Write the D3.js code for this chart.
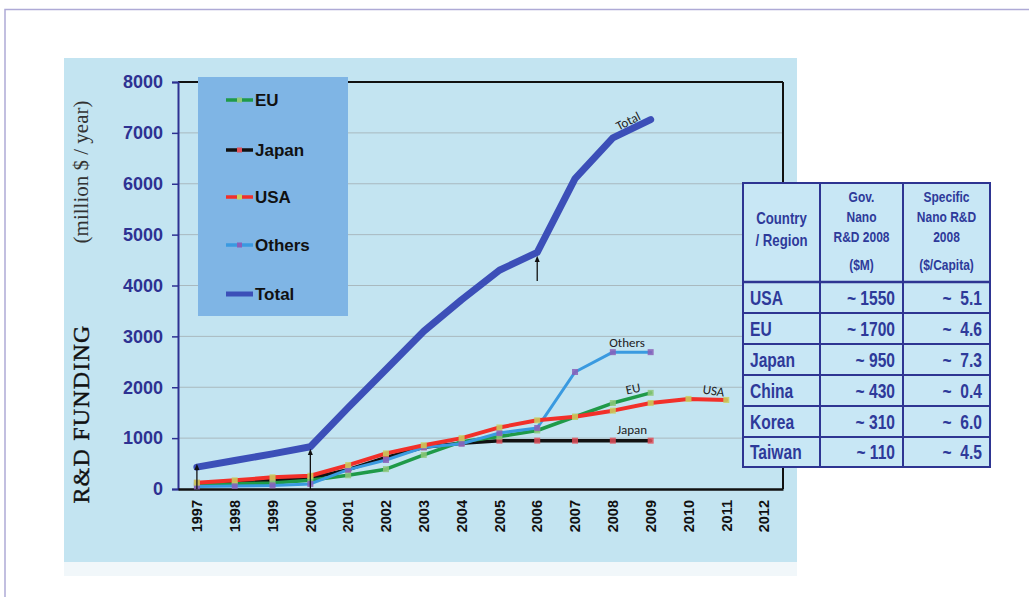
<!DOCTYPE html>
<html><head><meta charset="utf-8">
<script src="https://cdn.jsdelivr.net/npm/d3@7"></script>
<style>body{margin:0;background:#fff}svg{display:block}</style>
</head><body>
<svg id="c" width="1029" height="597"></svg>
<script>
const years = ["1997","1998","1999","2000","2001","2002","2003","2004","2005","2006","2007","2008","2009","2010","2011","2012"];
const totalVals  = [430, 560, 690, 830, 1600, 2350, 3100, 3720, 4300, 4650, 6100, 6900, 7260];
const usaVals    = [125, 170, 230, 260, 470, 700, 860, 1000, 1210, 1350, 1420, 1540, 1690, 1770, 1750];
const euVals     = [80, 100, 120, 170, 270, 390, 670, 930, 1030, 1150, 1420, 1690, 1890];
const japanVals  = [120, 140, 170, 210, 380, 620, 820, 900, 950, 950, 950, 950, 950];
const othersVals = [50, 60, 70, 100, 380, 570, 820, 890, 1100, 1200, 2300, 2690, 2690];
const yTicks = [0,1000,2000,3000,4000,5000,6000,7000,8000];
const legendNames = ["EU","Japan","USA","Others","Total"];
const arrowYears = ["1997","2000","2006"];
const tableHeader = ["Country\n/ Region","Gov.\nNano\nR&D 2008\n($M)","Specific\nNano R&D\n2008\n($/Capita)"];
const tableCountries = ["USA","EU","Japan","China","Korea","Taiwan"];
const tableFunding = ["~ 1550","~ 1700","~ 950","~ 430","~ 310","~ 110"];
const tablePerCapita = ["~  5.1","~  4.6","~  7.3","~  0.4","~  6.0","~  4.5"];

const svg = d3.select("#c");
// outer frame
svg.append("path").attr("d","M5,597 V9.5 H1029").attr("fill","none").attr("stroke","#aeaad6").attr("stroke-width",1.5);
// panel
svg.append("rect").attr("x",64).attr("y",58).attr("width",733).attr("height",504).attr("fill","#c3e4f1");
svg.append("rect").attr("x",64).attr("y",562).attr("width",733).attr("height",14).attr("fill","#f1f7fa");

const L=178,R=783,T=82,B=489;
const x = d3.scaleBand().domain(years).range([L,R]);
const cx = d => x(d)+x.bandwidth()/2;
const y = d3.scaleLinear().domain([0,8000]).range([B,T]);

// gridlines
svg.append("g").selectAll("line").data(yTicks.slice(1,-1)).join("line")
  .attr("x1",L).attr("x2",R).attr("y1",d=>y(d)).attr("y2",d=>y(d))
  .attr("stroke","#a9b9bf").attr("stroke-width",1);

// frame
svg.append("line").attr("x1",L).attr("x2",R).attr("y1",T).attr("y2",T).attr("stroke","#111").attr("stroke-width",2);
svg.append("line").attr("x1",R).attr("x2",R).attr("y1",T).attr("y2",B).attr("stroke","#111").attr("stroke-width",2);

// y axis
const ya = svg.append("g").attr("transform",`translate(${L},0)`)
  .call(d3.axisLeft(y).tickValues(yTicks).tickFormat(d3.format("d")).tickSize(6).tickPadding(9));
ya.select(".domain").attr("stroke","#2e3192").attr("stroke-width",2);
ya.selectAll(".tick line").attr("stroke","#2e3192").attr("stroke-width",1.5);
ya.selectAll("text").attr("fill","#2e3192").attr("font-family","Liberation Sans, Arial, sans-serif")
  .attr("font-weight","bold").attr("font-size",18);

// x axis
const xa = svg.append("g").attr("transform",`translate(0,${B})`)
  .call(d3.axisBottom(x).tickSize(0).tickPadding(0));
xa.select(".domain").attr("stroke","#111").attr("stroke-width",2.5);
xa.selectAll("text").attr("fill","#111").attr("font-family","Liberation Sans, Arial, sans-serif")
  .attr("font-weight","bold").attr("font-size",14.5)
  .attr("transform","rotate(-90)").attr("text-anchor","end").attr("dy","0.36em").attr("x",-11).attr("y",0);

// y titles
svg.append("text").attr("transform","translate(89,414) rotate(-90)").attr("text-anchor","middle")
  .attr("font-family","Liberation Serif, Times New Roman, serif").attr("font-size",24).attr("fill","#111")
  .attr("stroke","#111").attr("stroke-width",0.4)
  .attr("letter-spacing",1.2).text("R&D FUNDING");
svg.append("text").attr("transform","translate(88,172) rotate(-90)").attr("text-anchor","middle")
  .attr("font-family","Liberation Serif, Times New Roman, serif").attr("font-size",21).attr("fill","#333")
  .text("(million $ / year)");

// lines
const series = [
  {name:"Japan", vals:japanVals, color:"#111", w:3.5, mk:"#e0505a"},
  {name:"EU", vals:euVals, color:"#1f9a48", w:3.5, mk:"#8fc87a"},
  {name:"Others", vals:othersVals, color:"#3a9ae0", w:3, mk:"#8a5fb8"},
  {name:"USA", vals:usaVals, color:"#f2302a", w:4, mk:"#c8d060"},
  {name:"Total", vals:totalVals, color:"#3c4fb8", w:7, mk:null}
];
const line = d3.line().x((d,i)=>cx(years[i])).y(d=>y(d));
series.forEach(s=>{
  svg.append("path").datum(s.vals).attr("d",line).attr("fill","none")
    .attr("stroke",s.color).attr("stroke-width",s.w).attr("stroke-linejoin","round").attr("stroke-linecap","round");
  if(s.mk){
    svg.append("g").selectAll("rect").data(s.vals).join("rect")
      .attr("x",(d,i)=>cx(years[i])-3).attr("y",d=>y(d)-3).attr("width",6).attr("height",6)
      .attr("fill",s.mk).attr("opacity",0.85);
  }
});

// arrows
const defs = svg.append("defs");
defs.append("marker").attr("id","ah").attr("viewBox","0 0 10 10").attr("refX",5).attr("refY",5)
  .attr("markerWidth",5).attr("markerHeight",6).attr("orient","auto")
  .append("path").attr("d","M0,1 L10,5 L0,9 Z").attr("fill","#111");
const arrowSpan = {"1997":[489,467],"2000":[489,452],"2006":[281,259]};
arrowYears.forEach(a=>{
  svg.append("line").attr("x1",cx(a)).attr("x2",cx(a)).attr("y1",arrowSpan[a][0]).attr("y2",arrowSpan[a][1])
    .attr("stroke","#111").attr("stroke-width",1.3).attr("marker-end","url(#ah)");
});

// series labels
const lab = (t,xx,yy,rot)=>svg.append("text").attr("transform",`translate(${xx},${yy}) rotate(${rot})`)
  .attr("text-anchor","middle").attr("font-family","Carlito, Liberation Sans, sans-serif").attr("font-size",13)
  .attr("fill","#222").text(t);
lab("Total",630,125,-27);
lab("Others",627,347,0);
lab("EU",634,393,-12);
lab("USA",713,395,8);
lab("Japan",632,434,0);

// legend
svg.append("rect").attr("x",198).attr("y",77).attr("width",150).attr("height",239).attr("fill","#7fb5e5");
const lgY = [100,150,197,245,294];
const lgColors = {"EU":"#1f9a48","Japan":"#111","USA":"#f2302a","Others":"#3a9ae0","Total":"#3c4fb8"};
const lgMk = {"EU":"#8fc87a","Japan":"#e0505a","USA":"#c8d060","Others":"#8a5fb8","Total":null};
legendNames.forEach((n,i)=>{
  svg.append("line").attr("x1",226).attr("x2",253).attr("y1",lgY[i]).attr("y2",lgY[i])
    .attr("stroke",lgColors[n]).attr("stroke-width",n==="Total"?5:3.5);
  if(lgMk[n]) svg.append("rect").attr("x",237).attr("y",lgY[i]-2.5).attr("width",5).attr("height",5).attr("fill",lgMk[n]);
  svg.append("text").attr("x",255).attr("y",lgY[i]).attr("dy","0.36em")
    .attr("font-family","Liberation Sans, Arial, sans-serif").attr("font-weight","bold").attr("font-size",17)
    .attr("fill","#111").text(n);
});

// table
const tx=[743,820,903,990], ty=[183,282,313,344,375,406,437,467];
const tg = svg.append("g").attr("font-family","Liberation Sans, Arial, sans-serif")
  .attr("font-weight","bold").attr("fill","#2e3a9a");
tg.append("rect").attr("x",tx[0]).attr("y",ty[0]).attr("width",tx[3]-tx[0]).attr("height",ty[7]-ty[0])
  .attr("fill","#c8e7f5").attr("stroke","#2e3592").attr("stroke-width",2);
tx.slice(1,3).forEach(v=>tg.append("line").attr("x1",v).attr("x2",v).attr("y1",ty[0]).attr("y2",ty[7]).attr("stroke","#2e3592").attr("stroke-width",2));
ty.slice(1,7).forEach(v=>tg.append("line").attr("x1",tx[0]).attr("x2",tx[3]).attr("y1",v).attr("y2",v).attr("stroke","#2e3592").attr("stroke-width",v===282?2.5:2));
const sx = 0.8;
const ttext = (t,xx,yy,anchor,size,dy)=>tg.append("text")
  .attr("transform",`translate(${xx},${yy}) scale(${sx},1)`).attr("dy",dy||0)
  .attr("text-anchor",anchor).attr("font-size",size).attr("fill","#2e3a9a")
  .attr("xml:space","preserve").style("white-space","pre").text(t);
// header
const hdrSize=[16.5,15,15];
const hdrY=[[224,246],[202,222,242,270],[202,222,242,270]];
tableHeader.forEach((h,c)=>{
  h.split("\n").forEach((ln,k)=>ttext(ln,(tx[c]+tx[c+1])/2,hdrY[c][k],"middle",hdrSize[c]));
});
tableCountries.forEach((c,i)=>{
  const ym=(ty[i+1]+ty[i+2])/2;
  ttext(c,tx[0]+7,ym,"start",19.5,"0.36em");
  ttext(tableFunding[i],tx[2]-8,ym,"end",19.5,"0.36em");
  ttext(tablePerCapita[i],tx[3]-8,ym,"end",19.5,"0.36em");
});
</script>
</body></html>
